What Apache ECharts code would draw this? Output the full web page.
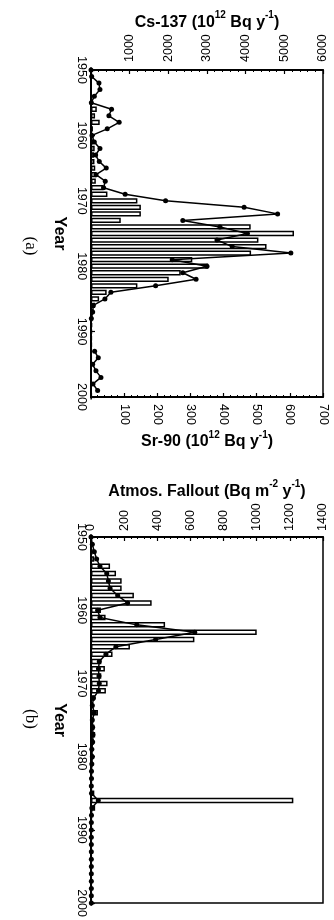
<!DOCTYPE html>
<html><head><meta charset="utf-8">
<script src="https://cdn.jsdelivr.net/npm/echarts@6/dist/echarts.min.js"></script>
<style>html,body{margin:0;padding:0;background:#fff}#c{width:334px;height:920px}</style>
</head><body><div id="c"></div>
<script>
const years = ['1950','1951','1952','1953','1954','1955','1956','1957','1958','1959',
'1960','1961','1962','1963','1964','1965','1966','1967','1968','1969',
'1970','1971','1972','1973','1974','1975','1976','1977','1978','1979',
'1980','1981','1982','1983','1984','1985','1986','1987','1988','1989',
'1990','1991','1992','1993','1994','1995','1996','1997','1998','1999','2000'];
const yearLabels = ['1950','1960','1970','1980','1990','2000'];
// Panel (a): Cs-137 discharges (bars, top axis), Sr-90 discharges (line, bottom axis)
const cs137 = [0,0,0,0,0,20,150,105,225,50,
50,60,95,80,90,110,140,125,310,425,
1200,1290,1290,770,4130,5250,4330,4540,4140,2620,
3030,2320,2010,1200,405,210,105,60,40,30,
25,20,20,15,15,15,12,12,10,10,8];
const sr90 = [0,2,24,27,10,1,62,54,85,49,
3,10,27,14,25,46,15,43,38,103,
225,462,563,277,389,472,380,426,603,245,
350,277,317,195,60,42,7,5,1,null,
null,null,null,11,22,5,15,30,6,20,null];
// Panel (b): atmospheric fallout
const fallBars = [0,5,10,20,115,151,185,185,259,366,
60,88,447,1000,624,235,130,62,84,62,
100,90,23,12,42,15,20,25,18,10,
15,10,6,4,3,20,1221,25,5,2,
2,2,2,2,2,2,2,2,2,2,2];
const fallLine = [0,8,20,34,54,95,105,115,161,221,
40,54,276,626,390,150,90,50,45,48,
50,45,15,8,20,8,10,12,10,5,
8,5,3,3,2,3,44,5,3,2,
2,2,2,2,2,2,2,2,2,2,2];

const FONT = 'Liberation Sans';
const lab = 12.5;
const rich = {
  b: {fontFamily: FONT, fontSize: 16, fontWeight: 'bold', color: '#000', lineHeight: 20, verticalAlign: 'bottom'},
  s: {fontFamily: FONT, fontSize: 10, fontWeight: 'bold', color: '#000', lineHeight: 20, verticalAlign: 'top'}
};
function valAxis(grid, pos, max, interval, name, gap, hideZero, margin) {
  return {
    type: 'value', gridIndex: grid, position: pos, min: 0, max: max, interval: interval,
    name: name, nameLocation: 'middle', nameGap: gap, nameTextStyle: {rich: rich},
    axisLine: {show: true, onZero: false, lineStyle: {color: '#000', width: 2}},
    axisTick: {show: true, inside: true, length: 4, lineStyle: {color: '#000', width: 1.2}},
    minorTick: {show: true, splitNumber: 5, length: 2, lineStyle: {color: '#000', width: 1}},
    splitLine: {show: false}, minorSplitLine: {show: false},
    axisLabel: {rotate: -90, margin: margin, fontFamily: FONT, fontSize: lab, color: '#000',
      formatter: v => (hideZero && v === 0) ? '' : String(v)}
  };
}
function yearAxis(grid) {
  return {
    type: 'category', gridIndex: grid, data: years, inverse: true, boundaryGap: false,
    name: 'Year', nameLocation: 'middle', nameRotate: -90, nameGap: 15,
    nameTextStyle: {fontFamily: FONT, fontSize: 16, fontWeight: 'bold', color: '#000'},
    axisLine: {show: true, lineStyle: {color: '#000', width: 2}},
    axisTick: {show: true, inside: true, length: 4, interval: (i, v) => yearLabels.indexOf(v) >= 0, lineStyle: {color: '#000', width: 1.2}},
    axisLabel: {rotate: -90, margin: 3, fontFamily: FONT, fontSize: lab, color: '#000',
      interval: (i, v) => yearLabels.indexOf(v) >= 0},
    splitLine: {show: false}
  };
}
const barStyle = {color: '#fff', borderColor: '#000', borderWidth: 1.5};
const lineSeries = (xi, yi, data) => ({
  type: 'line', xAxisIndex: xi, yAxisIndex: yi, data: data, symbol: 'circle', symbolSize: 5,
  showSymbol: true, showAllSymbol: true, connectNulls: false, itemStyle: {color: '#000'},
  lineStyle: {color: '#000', width: 1.5}, z: 5
});
const chart = echarts.init(document.getElementById('c'), null, {renderer: 'canvas'});
chart.setOption({
  animation: false,
  backgroundColor: '#fff',
  grid: [
    {left: 91, top: 70, width: 232, height: 327, show: true, borderColor: '#000', borderWidth: 1.5, backgroundColor: 'transparent'},
    {left: 91, top: 537, width: 232, height: 370, show: true, borderColor: '#000', borderWidth: 1.5, backgroundColor: 'transparent'}
  ],
  xAxis: [
    valAxis(0, 'top', 6000, 1000, '{b|Cs-137 (10}{s|12}{b| Bq y}{s|-1}{b|)}', 39, true, 8),
    valAxis(0, 'bottom', 700, 100, '{b|Sr-90 (10}{s|12}{b| Bq y}{s|-1}{b|)}', 33, true, 7),
    valAxis(1, 'top', 1400, 200, '{b|Atmos. Fallout (Bq m}{s|-2}{b| y}{s|-1}{b|)}', 34, false, 6)
  ],
  yAxis: [yearAxis(0), yearAxis(1)],
  series: [
    {type: 'bar', xAxisIndex: 0, yAxisIndex: 0, data: cs137, barWidth: 5.3, itemStyle: barStyle, z: 2},
    lineSeries(1, 0, sr90),
    {type: 'bar', xAxisIndex: 2, yAxisIndex: 1, data: fallBars, barWidth: 5.5, itemStyle: barStyle, z: 2},
    lineSeries(2, 1, fallLine)
  ],
  graphic: [
    {type: 'text', x: 30, y: 246, rotation: -Math.PI / 2, style: {text: '(a)', font: '17px "Liberation Serif"', fill: '#000', align: 'center', verticalAlign: 'middle'}},
    {type: 'text', x: 30, y: 719, rotation: -Math.PI / 2, style: {text: '(b)', font: '17px "Liberation Serif"', fill: '#000', align: 'center', verticalAlign: 'middle'}}
  ]
});
</script></body></html>
